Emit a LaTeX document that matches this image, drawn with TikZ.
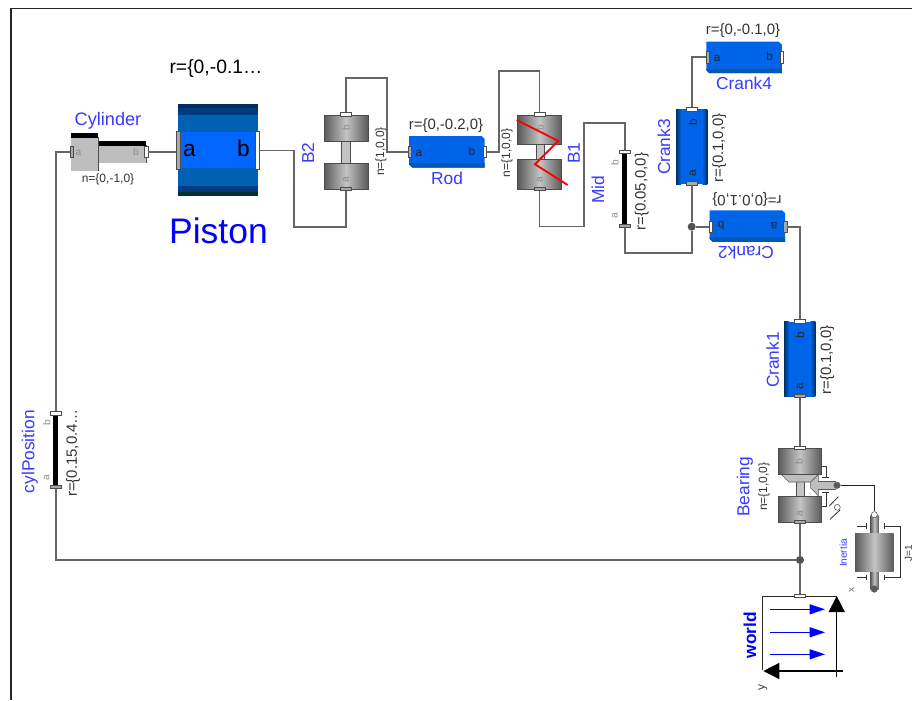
\documentclass[tikz,border=0pt]{standalone}
\usepackage{fontspec}
\setmainfont{Liberation Sans}
\usetikzlibrary{calc, arrows.meta}
\definecolor{labelColor}{HTML}{3A3AFF}
\definecolor{pureBlue}{HTML}{0000FF}
\definecolor{wireColor}{HTML}{666666}
\definecolor{bodyBlue}{HTML}{0064E8}
\definecolor{stripBlue}{HTML}{0058B4}
\definecolor{edgeBlue}{HTML}{002F62}
\definecolor{portGray}{HTML}{A8A8A8}
\definecolor{blockDark}{HTML}{5A5A5A}
\definecolor{blockLight}{HTML}{C4C4C4}
\definecolor{cylGray}{HTML}{BEBEBE}
\tikzset{
    wire/.style={draw=wireColor, line width=1.35pt},
    thinwire/.style={draw=black!85, line width=0.75pt},
    portv/.style={draw=black!70, line width=0.4pt, inner sep=0, minimum width=2.6pt, minimum height=8.4pt},
    porth/.style={draw=black!70, line width=0.4pt, inner sep=0, minimum width=8.4pt, minimum height=2.6pt},
    porta/.style={fill=portGray},
    portb/.style={fill=white},
    dotnode/.style={circle, fill=wireColor!80!black, inner sep=0, minimum size=6pt},
    compname/.style={text=labelColor, inner sep=0, font=\fontsize{13}{13}\selectfont},
    param/.style={text=black!80, inner sep=0, font=\fontsize{11.2}{12}\selectfont},
    smalltext/.style={text=black!80, inner sep=0, font=\fontsize{9}{9}\selectfont},
    letter/.style={text=black!85, inner sep=0, font=\fontsize{8.8}{9}\selectfont},
    greyletter/.style={text=black!45, inner sep=0, font=\fontsize{7.6}{8}\selectfont},
}
% blue rod with two cut corners, #1 #2 is the top left corner
\newcommand{\rodbody}[2]{
    \begin{scope}[shift={(#1,#2)}]
        \fill[bodyBlue] (0,0) -- (72.5,0) -- (75.5,3) -- (75.5,31.5) -- (3,31.5) -- (0,28.5) -- cycle;
        \fill[stripBlue] (0,27) -- (75.5,27) -- (75.5,31.5) -- (3,31.5) -- (0,28.5) -- cycle;
    \end{scope}
}
% upright blue rod, darker along both sides
\newcommand{\crankbody}[2]{
    \begin{scope}[shift={(#1,#2)}]
        \fill[bodyBlue] (0,0) rectangle (31.3,75);
        \shade[left color=edgeBlue, right color=bodyBlue] (0,0) rectangle (5,75);
        \shade[left color=bodyBlue, right color=edgeBlue] (26.3,0) rectangle (31.3,75);
    \end{scope}
}
% grey bearing block
\newcommand{\bearblock}[4]{
    \shade[draw=black!70, line width=0.5pt, left color=blockDark, right color=blockDark, middle color=blockLight] (#1,#2) rectangle (#3,#4);
}
\begin{document}
\begin{tikzpicture}[x=0.75pt, y=-0.75pt]
    \useasboundingbox (0,0) rectangle (912,700);
    \fill[white] (0,0) rectangle (912,700);
    \draw[black!85, line width=0.8pt] (912,8.7) -- (11,8.7) -- (11,700);

    % cylinder
    \fill[cylGray] (71,133.3) rectangle (98,171);
    \fill[cylGray] (98,140.7) rectangle (146,163.3);
    \fill[black] (71,133.3) rectangle (98,137.6);
    \fill[black] (98,140.7) rectangle (146,145.6);
    \draw[black!70, line width=0.7pt] (98,137) -- (98,171) (146,145) -- (146,163.3);
    \node[portv, porta] (cylinderA) at (72,152) {};
    \node[portv, portb] (cylinderB) at (146.3,152) {};
    \node[greyletter] (cylinderAtext) at (78.5,152.5) {a};
    \node[greyletter] (cylinderBtext) at (136,152) {b};
    \node[compname, font=\fontsize{13.6}{14}\selectfont] (cylinderName) at (108,120.5) {Cylinder};
    \node[smalltext] (cylinderParam) at (108,179.5) {n=\{0,-1,0\}};

    % piston
    \foreach \ya/\yb/\col in {103.7/108/002B5C, 108/115/003A80, 115/132/0060B4, 132/168/0066FF, 168/186/0060B4, 186/192/003A80, 192/196/003038} {
        \definecolor{bandColor}{HTML}{\col}
        \fill[bandColor] (178.3,\ya) rectangle (258.3,\yb);
    }
    \node[portv, porta, minimum height=28.8pt] (pistonA) at (178.3,150.5) {};
    \node[portv, portb, minimum height=28.8pt] (pistonB) at (257.2,150.5) {};
    \node[inner sep=0, font=\fontsize{17}{17}\selectfont] (pistonAtext) at (189.5,151) {a};
    \node[inner sep=0, font=\fontsize{17}{17}\selectfont] (pistonBtext) at (243.5,148.5) {b};
    \node[inner sep=0, font=\fontsize{14.5}{15}\selectfont] (pistonParam) at (216,68.5) {r=\{0,-0.1…};
    \node[inner sep=0, text=pureBlue, font=\fontsize{26.6}{27}\selectfont] (pistonName) at (218.5,231) {Piston};

    % bearing B2
    \fill[blockLight] (341,141) rectangle (350,163);
    \draw[black!70, line width=0.5pt] (341,141) -- (341,163) (350,141) -- (350,163);
    \bearblock{324}{115}{368}{141}
    \bearblock{324}{163}{368}{189.3}
    \node[porth, portb] (btwoB) at (346,114.3) {};
    \node[porth, porta] (btwoA) at (346,188.5) {};
    \node[greyletter, rotate=90] (btwoBtext) at (346,127.5) {b};
    \node[greyletter, rotate=90] (btwoAtext) at (346,180) {a};
    \node[compname, rotate=90] (btwoName) at (308,153) {B2};
    \node[smalltext, rotate=90] (btwoParam) at (381,151.5) {n=\{1,0,0\}};

    % rod
    \rodbody{409}{136}
    \node[portv, porta] (rodA) at (410,152) {};
    \node[portv, portb] (rodB) at (484.7,152) {};
    \node[letter] (rodAtext) at (419,153) {a};
    \node[letter] (rodBtext) at (472,151) {b};
    \node[param] (rodParam) at (446,126) {r=\{0,-0.2,0\}};
    \node[compname] (rodName) at (447,178) {Rod};

    % bearing B1
    \fill[blockLight] (536,144) rectangle (544.3,159.3);
    \draw[black!70, line width=0.5pt] (536,144) -- (536,159.3) (544.3,144) -- (544.3,159.3);
    \bearblock{517.7}{115}{561.7}{144}
    \bearblock{517.7}{159.3}{561.7}{189}
    \node[porth, portb] (boneB) at (539.5,114.3) {};
    \node[porth, porta] (boneA) at (539.5,188.5) {};
    \node[greyletter, rotate=90] (boneBtext) at (540,127.5) {b};
    \node[greyletter, rotate=90] (boneAtext) at (540,180) {a};
    \draw[red, line width=1.4pt] (516.7,120) -- (558.3,141) -- (535,164.3) -- (567.7,185);
    \node[compname, rotate=90] (boneName) at (574,153) {B1};
    \node[smalltext, rotate=90] (boneParam) at (507,153) {n=\{1,0,0\}};

    % mid
    \fill[black] (622.3,152) rectangle (626.7,225);
    \node[porth, portb] (midB) at (625,151.7) {};
    \node[porth, porta] (midA) at (625,225.7) {};
    \node[greyletter, rotate=90] (midBtext) at (615,163) {b};
    \node[greyletter, rotate=90] (midAtext) at (615,216) {a};
    \node[compname, rotate=90] (midName) at (598,190) {Mid};
    \node[param, rotate=90] (midParam) at (641.7,191.7) {r=\{0.05,0,0\}};

    % crank3
    \crankbody{676}{109.3}
    \node[porth, portb] (crankthreeB) at (691.7,109.2) {};
    \node[porth, porta] (crankthreeA) at (691.7,183.2) {};
    \node[letter, rotate=90] (crankthreeBtext) at (692.7,122.7) {b};
    \node[letter, rotate=90] (crankthreeAtext) at (692.7,173) {a};
    \node[compname, rotate=90] (crankthreeName) at (664,147) {Crank3};
    \node[param, rotate=90] (crankthreeParam) at (719.3,148) {r=\{0.1,0,0\}};

    % crank4
    \rodbody{706.3}{41.7}
    \node[portv, porta] (crankfourA) at (707.5,57.3) {};
    \node[portv, portb] (crankfourB) at (781.8,57.3) {};
    \node[letter] (crankfourAtext) at (717,58) {a};
    \node[letter] (crankfourBtext) at (769.5,56) {b};
    \node[param] (crankfourParam) at (743,31) {r=\{0,-0.1,0\}};
    \node[compname] (crankfourName) at (744,83) {Crank4};

    % crank2
    \rodbody{709.7}{210.3}
    \node[portv, portb] (cranktwoB) at (710.8,226.7) {};
    \node[portv, porta] (cranktwoA) at (785.2,226.7) {};
    \node[letter, rotate=180] (cranktwoBtext) at (721,225.7) {b};
    \node[letter, rotate=180] (cranktwoAtext) at (774,225.7) {a};
    \node[param, rotate=180] (cranktwoParam) at (747,199.5) {r=\{0,0.1,0\}};
    \node[compname, rotate=180] (cranktwoName) at (746,253) {Crank2};

    % crank1
    \crankbody{784}{321.7}
    \node[porth, portb] (crankoneB) at (800,321.2) {};
    \node[porth, porta] (crankoneA) at (800,395.7) {};
    \node[letter, rotate=90] (crankoneBtext) at (800,335) {b};
    \node[letter, rotate=90] (crankoneAtext) at (800,386) {a};
    \node[compname, rotate=90] (crankoneName) at (772.7,360) {Crank1};
    \node[param, rotate=90] (crankoneParam) at (827.3,360) {r=\{0.1,0,0\}};

    % bearing
    \fill[blockLight] (796.3,474) rectangle (804.3,496);
    \draw[black!70, line width=0.5pt] (796.3,474) -- (796.3,496) (804.3,474) -- (804.3,496);
    \fill[cylGray, draw=black!65, line width=0.4pt] (781.7,474.7) -- (789,482) -- (810.7,482) -- (818.3,474.7) -- cycle;
    \fill[cylGray, draw=black!65, line width=0.4pt] (810.7,482) -- (818.3,474.7) -- (818.3,495.7) -- (810.7,488) -- cycle;
    \fill[cylGray] (818,481.7) rectangle (836,489.3);
    \draw[black!65, line width=0.4pt] (818,481.7) -- (836,481.7) (818,489.3) -- (836,489.3);
    \bearblock{778}{448.3}{821.7}{474.7}
    \bearblock{778}{496}{821.7}{522.3}
    \node[porth, portb] (bearingB) at (800,447.8) {};
    \node[porth, porta] (bearingA) at (800,521.8) {};
    \node[greyletter, rotate=90] (bearingBtext) at (799,461.5) {b};
    \node[greyletter, rotate=90] (bearingAtext) at (800,513.5) {a};
    \draw[black!80, line width=0.6pt] (821.7,466) -- (826.7,466) -- (826.7,477.7) (821.7,477.7) -- (829,477.7);
    \draw[black!80, line width=0.6pt] (821.7,492.3) -- (829,492.3) (826.7,492.3) -- (826.7,506.7) -- (821.7,506.7);
    \draw[black!80, line width=0.6pt] (829.3,506) -- (838.3,496.7) (830,519.3) -- (840,510);
    \node[circle, draw=black!70, fill=white, line width=0.4pt, inner sep=0, minimum size=4.4pt] (bearingSupport) at (837.3,507.3) {};
    \node[dotnode, draw=black!60, fill=black!65, minimum size=5pt, line width=0.3pt] (bearingFlange) at (837,485.3) {};
    \node[compname, rotate=90] (bearingName) at (745,486.7) {Bearing};
    \node[smalltext, rotate=90] (bearingParam) at (764,486.7) {n=\{1,0,0\}};

    % inertia
    \shade[left color=blockDark, right color=blockDark, middle color=blockLight] (870.3,515) rectangle (878.7,589);
    \shade[left color=blockDark, right color=blockDark, middle color=blockLight] (855,533) rectangle (893.7,571);
    \node[circle, draw=black!70, fill=white, line width=0.4pt, inner sep=0, minimum size=4.6pt] (inertiaA) at (874.3,514.7) {};
    \node[dotnode, draw=black!60, fill=black!65, minimum size=5pt, line width=0.3pt] (inertiaB) at (874.3,589) {};
    \draw[black!80, line width=0.6pt] (857,526) -- (866.7,526) (866.7,523.3) -- (866.7,529);
    \draw[black!80, line width=0.6pt] (857,577.7) -- (866.7,577.7) (866.7,575) -- (866.7,580.4);
    \draw[black!80, line width=0.6pt] (884,523.3) -- (884,529) (884,526) -- (900.3,526) -- (900.3,577.7) -- (884,577.7) (884,575) -- (884,580.4);
    \node[rotate=90, text=labelColor, inner sep=0, font=\fontsize{7.5}{8}\selectfont] (inertiaName) at (843.3,553) {Inertia};
    \node[smalltext, rotate=90, font=\fontsize{7.5}{8}\selectfont] (inertiaParam) at (908.5,553) {J=1};

    % world
    \draw[black!85, line width=0.7pt] (836.7,596) -- (762.7,596) -- (762.7,670);
    \foreach \yy in {609.3, 632.3, 654.3}
        \draw[-{Triangle[length=11.5pt,width=7.5pt]}, pureBlue, line width=0.75pt] (770,\yy) -- (825,\yy);
    \coordinate (worldYtail) at (843.3,671);
    \coordinate (worldYtip) at (763.3,671);
    \coordinate (worldXtail) at (836.7,677.3);
    \coordinate (worldXtip) at (836.7,596);
    \draw[-{Triangle[length=12pt,width=12pt]}, black, line width=1.1pt] (worldYtail) -- (worldYtip);
    \draw[-{Triangle[length=12pt,width=12pt]}, black, line width=1.1pt] (worldXtail) -- (worldXtip);
    \node[porth, portb] (worldPort) at (800,595.8) {};
    \node[rotate=90, text=pureBlue, inner sep=0, font=\bfseries\fontsize{13}{13}\selectfont] (worldName) at (750,635) {world};
    \node[rotate=90, text=black!75, inner sep=0, font=\fontsize{9}{9}\selectfont] (worldY) at (763,687) {y};
    \node[rotate=90, text=black!55, inner sep=0, font=\fontsize{7.5}{8}\selectfont] (worldX) at (851.7,590) {x};

    % cylPosition
    \fill[black] (53.3,413) rectangle (58.3,487);
    \node[porth, portb] (cylposB) at (55.8,413.2) {};
    \node[porth, porta] (cylposA) at (55.8,487) {};
    \node[greyletter, rotate=90] (cylposBtext) at (46.7,423) {b};
    \node[greyletter, rotate=90] (cylposAtext) at (46.7,477.7) {a};
    \node[compname, rotate=90] (cylposName) at (30,451.7) {cylPosition};
    \node[param, rotate=90] (cylposParam) at (73,453) {r=\{0.15,0.4…};

    % junctions
    \node[dotnode] (crankJoint) at (691.7,226.7) {};
    \node[dotnode] (worldJoint) at (800,560) {};

    % connectors
    \draw[wire] (cylinderA.west) -| (cylposB.north);
    \draw[wire] (cylposA.south) |- (worldJoint.west);
    \draw[wire] (cylinderB.east) -- (pistonA.west |- cylinderB.east);
    \draw[wire] (pistonB.east) -- (294.3,150.5) -- (294.3,226.7) -| (btwoA.south);
    \draw[wire] (btwoB.north) -- (346,78) -- (387,78) |- (rodA.west);
    \draw[wire] (rodB.east) -- (499,152) -- (499,71) -| (boneB.north);
    \draw[wire] (boneA.south) -- (539.5,226.5) -- (584,226.5) -- (584,123) -| (midB.north);
    \draw[wire] (midA.south) -- (625,252.7) -| (crankJoint.south);
    \draw[wire] (crankJoint.north) -- (crankthreeA.south);
    \draw[wire] (crankJoint.east) -- (cranktwoB.west);
    \draw[wire] (crankthreeB.north) |- (crankfourA.west);
    \draw[wire] (cranktwoA.east) -| (crankoneB.north);
    \draw[wire] (crankoneA.south) -- (bearingB.north);
    \draw[wire] (bearingA.south) -- (worldJoint.north);
    \draw[wire] (worldJoint.south) -- (worldPort.north);
    \draw[thinwire] (bearingFlange.east) -| (inertiaA.north);
\end{tikzpicture}
\end{document}
